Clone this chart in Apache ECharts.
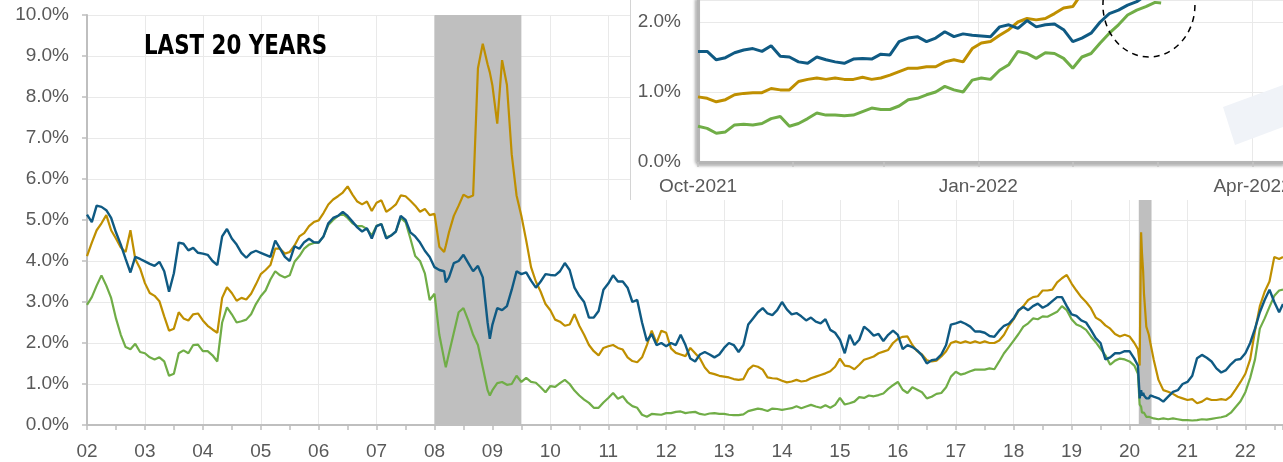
<!DOCTYPE html>
<html>
<head>
<meta charset="utf-8">
<script src="https://cdn.jsdelivr.net/npm/echarts@6/dist/echarts.min.js"></script>
<style>
html,body{margin:0;padding:0;background:#fff;overflow:hidden;}
#wrap{position:relative;width:1283px;height:462px;}
#main{position:absolute;left:0;top:0;width:1283px;height:462px;}
#inset{position:absolute;left:630px;top:0;width:653px;height:200px;background:#fff;}
</style>
</head>
<body>
<div id="wrap"><div id="main"></div><div id="inset"></div></div>
<script>
// ---------- MAIN CHART DATA (monthly, starting Jan 2002) ----------
const START_YEAR = 2002;
const yTickLabelsMain = [0,1,2,3,4,5,6,7,8,9,10];

const blueYield = [
5.13,4.95,5.35,5.32,5.24,5.05,4.70,4.40,4.05,3.72,4.10,4.05,
3.99,3.93,3.88,3.98,3.75,3.25,3.70,4.45,4.42,4.26,4.32,4.20,
4.18,4.15,4.00,3.90,4.60,4.78,4.55,4.40,4.20,4.08,4.20,4.25,
4.20,4.15,4.10,4.50,4.30,4.10,4.00,4.36,4.30,4.46,4.54,4.46,
4.45,4.60,4.92,5.05,5.10,5.20,5.10,4.96,4.82,4.72,4.80,4.55,
4.85,4.90,4.55,4.62,4.72,5.10,5.00,4.70,4.60,4.45,4.25,4.10,
3.85,3.78,3.75,3.60,3.95,4.00,4.15,3.95,3.75,3.88,3.60,2.50,
2.45,2.85,2.80,2.90,3.30,3.75,3.68,3.72,3.52,3.35,3.50,3.68,
3.66,3.65,3.75,3.95,3.78,3.35,3.15,3.00,2.62,2.62,2.78,3.30,
3.45,3.65,3.50,3.50,3.35,3.00,3.05,2.50,2.05,2.22,1.95,2.00,
1.92,2.00,1.95,2.20,1.95,1.62,1.55,1.72,1.78,1.72,1.65,1.72,
1.88,2.00,1.95,1.78,1.95,2.45,2.60,2.75,2.85,2.72,2.68,2.80,
3.00,2.82,2.70,2.73,2.65,2.55,2.62,2.52,2.48,2.58,2.32,2.25,
2.08,1.75,2.20,1.95,2.08,2.40,2.30,2.18,2.22,2.05,2.20,2.30,
2.20,1.85,1.95,1.90,1.82,1.70,1.50,1.58,1.60,1.72,1.95,2.45,
2.48,2.52,2.47,2.40,2.28,2.28,2.25,2.17,2.15,2.30,2.42,2.47,
2.60,2.80,2.88,2.80,2.90,2.96,2.86,2.92,3.02,3.12,3.12,2.90,
2.70,2.66,2.55,2.50,2.32,2.12,2.00,1.60,1.65,1.75,1.75,1.80,
1.80,1.62,0.90,0.72,0.65,0.69,0.65,0.57,0.69,0.81,0.85,1.00,
1.05,1.20,1.63,1.71,1.64,1.55,1.38,1.28,1.34,1.48,1.59,1.61,
1.75,2.00,2.35,2.75,3.05,3.30,3.00,2.75];

const goldYield = [
4.12,4.45,4.75,4.92,5.12,4.75,4.55,4.33,4.22,4.75,4.05,3.82,
3.46,3.22,3.15,3.02,2.65,2.30,2.35,2.75,2.60,2.55,2.70,2.72,
2.55,2.42,2.33,2.25,3.10,3.36,3.22,3.03,3.10,3.06,3.20,3.43,
3.68,3.78,3.90,4.30,4.30,4.18,4.22,4.38,4.60,4.68,4.85,4.95,
4.99,5.17,5.38,5.50,5.58,5.67,5.82,5.62,5.45,5.38,5.45,5.22,
5.42,5.48,5.20,5.28,5.38,5.60,5.58,5.47,5.35,5.20,5.27,5.12,
5.15,4.35,4.22,4.70,5.10,5.35,5.62,5.55,5.60,8.70,9.30,8.80,
8.28,7.35,8.90,8.30,6.60,5.60,5.10,4.50,3.85,3.50,3.25,2.95,
2.80,2.57,2.52,2.42,2.45,2.70,2.42,2.20,1.95,1.80,1.70,1.88,
1.92,1.95,1.88,1.84,1.65,1.56,1.53,1.65,1.95,2.30,2.00,2.30,
2.25,1.87,1.76,1.72,1.68,1.88,1.75,1.62,1.40,1.27,1.24,1.20,
1.18,1.16,1.12,1.10,1.12,1.35,1.45,1.42,1.35,1.16,1.14,1.13,
1.08,1.04,1.06,1.10,1.06,1.08,1.14,1.18,1.22,1.26,1.31,1.42,
1.62,1.45,1.43,1.36,1.47,1.59,1.63,1.67,1.75,1.79,1.83,2.00,
2.10,2.15,2.16,1.95,1.80,1.72,1.58,1.55,1.57,1.67,1.80,2.00,
2.04,2.00,2.04,2.00,2.04,2.00,2.04,2.00,2.00,2.06,2.20,2.42,
2.58,2.78,2.90,3.05,3.12,3.14,3.28,3.28,3.30,3.48,3.58,3.66,
3.45,3.28,3.12,3.00,2.85,2.62,2.55,2.43,2.35,2.22,2.16,2.20,
2.16,2.00,1.60,3.20,2.20,1.60,1.10,0.85,0.81,0.76,0.69,0.65,
0.61,0.63,0.53,0.57,0.65,0.61,0.61,0.63,0.61,0.70,0.87,1.05,
1.25,1.60,2.30,2.90,3.25,3.50,4.10,4.05];

const greenYield = [
2.93,3.12,3.40,3.65,3.40,3.10,2.60,2.20,1.90,1.85,1.98,1.78,
1.75,1.65,1.60,1.65,1.55,1.20,1.25,1.75,1.82,1.75,1.95,1.96,
1.80,1.80,1.70,1.55,2.50,2.87,2.70,2.50,2.53,2.57,2.70,2.95,
3.14,3.28,3.55,3.75,3.65,3.60,3.65,3.98,4.12,4.30,4.40,4.44,
4.45,4.60,4.88,5.00,5.10,5.15,5.05,4.92,4.85,4.85,4.78,4.62,
4.86,4.90,4.58,4.62,4.72,5.05,4.95,4.55,4.12,4.00,3.70,3.05,
3.20,2.20,1.60,1.75,2.25,2.75,2.85,2.55,2.20,1.95,1.40,0.85,
0.85,1.02,1.05,0.98,1.00,1.20,1.05,1.15,1.05,1.03,0.92,0.80,
0.95,0.93,1.02,1.10,1.00,0.84,0.72,0.62,0.54,0.42,0.42,0.55,
0.66,0.78,0.64,0.70,0.55,0.46,0.42,0.25,0.20,0.27,0.26,0.25,
0.29,0.29,0.32,0.33,0.29,0.31,0.32,0.27,0.25,0.28,0.29,0.27,
0.27,0.25,0.24,0.24,0.26,0.34,0.37,0.40,0.38,0.34,0.40,0.39,
0.37,0.39,0.41,0.46,0.41,0.45,0.49,0.45,0.42,0.48,0.42,0.49,
0.66,0.50,0.53,0.57,0.68,0.66,0.72,0.70,0.73,0.77,0.88,0.97,
1.05,0.86,0.78,0.92,0.86,0.80,0.65,0.69,0.76,0.78,0.92,1.18,
1.30,1.23,1.26,1.31,1.35,1.35,1.35,1.38,1.36,1.55,1.75,1.90,
2.06,2.22,2.40,2.48,2.60,2.58,2.65,2.64,2.70,2.76,2.90,2.80,
2.58,2.45,2.40,2.32,2.16,2.02,1.86,1.70,1.47,1.57,1.62,1.60,
1.55,1.45,0.70,0.30,0.20,0.16,0.14,0.16,0.14,0.16,0.14,0.12,
0.12,0.11,0.12,0.14,0.13,0.15,0.17,0.19,0.22,0.30,0.44,0.58,
0.80,1.15,1.60,2.35,2.60,2.88,3.15,3.28];

// extra (non-monthly) observations for sharp moves
const fineX      = [2008.195, 2008.955, 2020.145, 2020.175, 2020.20, 2020.215, 2020.235, 2020.29, 2020.36, 2022.65];
const blueFine   = [3.48, 2.10, 1.45, 0.65, 0.85, 0.72, 0.78, 0.65, 0.72, 2.95];
const goldFine   = [4.37, 8.60, 1.85, 1.45, 4.70, 4.20, 3.75, 2.40, 2.00, 4.10];
const greenFine  = [1.41, 0.72, 1.25, 0.50, 0.45, 0.30, 0.28, 0.20, 0.16, 3.30];

// recession periods (shaded)
const recessions = [[2008.0, 2009.5], [2020.16, 2020.38]];

// ---------- INSET DATA (Oct-2021 .. Mar-2022), day offsets from 2021-10-01 ----------
const insetDays = [0,3,6,9,12,15,18,21,24,27,30,33,36,39,42,45,48,51,54,57,60,63,66,69,72,75,78,81,84,87,90,93,96,99,102,105,108,111,114,117,120,123,126,129,132,135,138,141,144,147,150,152];
const insetBlue = [1.58,1.58,1.46,1.49,1.56,1.60,1.62,1.58,1.66,1.51,1.50,1.43,1.41,1.50,1.46,1.43,1.41,1.47,1.48,1.47,1.54,1.53,1.72,1.77,1.79,1.72,1.77,1.86,1.79,1.83,1.81,1.80,1.79,1.93,1.96,1.91,2.02,1.93,1.96,1.97,1.89,1.72,1.77,1.84,2.00,2.12,2.17,2.24,2.29,2.38,2.36,2.34];
const insetGold = [0.93,0.91,0.86,0.89,0.96,0.98,0.99,0.99,1.05,1.03,1.03,1.15,1.18,1.20,1.18,1.20,1.18,1.18,1.21,1.18,1.20,1.24,1.29,1.34,1.34,1.36,1.36,1.43,1.46,1.43,1.62,1.70,1.72,1.81,1.89,2.00,2.05,2.03,2.05,2.12,2.20,2.22,2.41,2.45,2.50,2.55,2.60,2.62,2.65,2.70,2.72,2.75];
const insetGreen = [0.51,0.48,0.41,0.43,0.53,0.54,0.53,0.55,0.62,0.65,0.51,0.55,0.62,0.70,0.67,0.67,0.66,0.67,0.72,0.77,0.75,0.75,0.80,0.89,0.91,0.96,1.00,1.08,1.03,1.00,1.17,1.20,1.18,1.31,1.39,1.58,1.55,1.48,1.56,1.55,1.48,1.34,1.50,1.55,1.70,1.84,1.96,2.10,2.17,2.22,2.28,2.27];
const insetYTicks = [0,1,2];
const MONTHS = ['Jan','Feb','Mar','Apr','May','Jun','Jul','Aug','Sep','Oct','Nov','Dec'];

// ---------- COLOURS ----------
const C_BLUE = '#0f5a83', C_GOLD = '#bf8f00', C_GREEN = '#70ad47';
const AXIS_FONT = "'Liberation Sans', Arial, sans-serif";

// ---------- MAIN CHART ----------
const monthX = blueYield.map((_, i) => START_YEAR + i / 12);
function build(monthly, fine) {
  const pts = monthly.map((v, i) => [monthX[i], v]);
  fine.forEach((v, j) => pts.push([fineX[j], v]));
  pts.sort((a, b) => a[0] - b[0]);
  return pts;
}
const isInt = v => Math.abs(v - Math.round(v)) < 1e-6;

const main = echarts.init(document.getElementById('main'));
main.setOption({
  animation: false,
  graphic: [{
    type: 'text', silent: true, x: 144, y: 47, scaleX: 0.88, z: 10,
    style: { text: 'LAST 20 YEARS', fill: '#000', font: "bold 27px 'Liberation Sans Narrow','DejaVu Sans Condensed',sans-serif",
      textAlign: 'left', textVerticalAlign: 'middle' }
  }],
  grid: { left: 87, right: 0, top: 15, bottom: 37, containLabel: false, outerBoundsMode: 'none' },
  xAxis: {
    type: 'value', min: 2002, max: 2022.65, interval: 1,
    axisLine: { show: true, onZero: false, lineStyle: { color: '#bfbfbf', width: 2 } },
    axisTick: { show: true, length: 5, lineStyle: { color: '#bfbfbf', width: 1.5 } },
    minorTick: { show: true, splitNumber: 2, length: 5, lineStyle: { color: '#bfbfbf', width: 1.5 } },
    axisLabel: { margin: 17, fontSize: 19, color: '#595959', fontFamily: AXIS_FONT,
      formatter: v => isInt(v) ? String(Math.round(v) % 100).padStart(2, '0') : '' },
    splitLine: { show: true, lineStyle: { color: '#e9e9e9', width: 1 } }
  },
  yAxis: {
    type: 'value', min: yTickLabelsMain[0], max: yTickLabelsMain[yTickLabelsMain.length - 1], interval: 1,
    axisLine: { show: true, lineStyle: { color: '#bfbfbf', width: 2 } },
    axisTick: { show: true, length: 5, lineStyle: { color: '#bfbfbf', width: 1.5 } },
    axisLabel: { margin: 18, fontSize: 19, color: '#595959', fontFamily: AXIS_FONT, formatter: v => v.toFixed(1) + '%' },
    splitLine: { show: true, lineStyle: { color: '#e9e9e9', width: 1 } }
  },
  series: [
    { name: 'recession', type: 'line', data: [], z: 1, silent: true,
      markArea: { silent: true, itemStyle: { color: '#bfbfbf' },
        data: recessions.map(r => [{ xAxis: r[0] }, { xAxis: r[1] }]) } },
    { name: 'green', type: 'line', data: build(greenYield, greenFine), showSymbol: false, z: 3,
      lineStyle: { color: C_GREEN, width: 2.2 }, itemStyle: { color: C_GREEN } },
    { name: 'gold', type: 'line', data: build(goldYield, goldFine), showSymbol: false, z: 3,
      lineStyle: { color: C_GOLD, width: 2.2 }, itemStyle: { color: C_GOLD } },
    { name: 'blue', type: 'line', data: build(blueYield, blueFine), showSymbol: false, z: 3,
      lineStyle: { color: C_BLUE, width: 2.4 }, itemStyle: { color: C_BLUE } }
  ]
});

// ---------- INSET CHART ----------
const insetCats = [];
for (let t = Date.UTC(2021, 9, 1); t <= Date.UTC(2022, 3, 11); t += 86400000) {
  insetCats.push(new Date(t).toISOString().slice(0, 10));
}
function toDaily(vals) {
  const arr = new Array(insetCats.length).fill(null);
  insetDays.forEach((d, i) => { arr[d] = vals[i]; });
  return arr;
}
const isMonthStart = v => v.endsWith('-01');
const isQuarterStart = v => /-(01|04|07|10)-01$/.test(v);

const inset = echarts.init(document.getElementById('inset'));
inset.setOption({
  animation: false,
  grid: { left: 68, right: 0, top: 0, bottom: 38, containLabel: false, outerBoundsMode: 'none' },
  xAxis: {
    type: 'category', data: insetCats, boundaryGap: false,
    axisLine: { show: true, lineStyle: { color: '#b5b5b5', width: 3, shadowColor: 'rgba(0,0,0,0.35)', shadowBlur: 3, shadowOffsetY: 2 } },
    axisTick: { show: true, interval: (i, v) => isMonthStart(v), length: 5, lineStyle: { color: '#c4c4c4', width: 1.5 } },
    axisLabel: { interval: (i, v) => isQuarterStart(v), margin: 15, fontSize: 19, color: '#595959', fontFamily: AXIS_FONT,
      hideOverlap: false, formatter: v => MONTHS[+v.slice(5, 7) - 1] + '-' + v.slice(0, 4) },
    splitLine: { show: true, interval: (i, v) => isQuarterStart(v), lineStyle: { color: '#e9e9e9', width: 1 } }
  },
  yAxis: {
    type: 'value', min: 0, max: 2.314, interval: 1,
    axisLine: { show: true, lineStyle: { color: '#b5b5b5', width: 3, shadowColor: 'rgba(0,0,0,0.35)', shadowBlur: 3, shadowOffsetX: -2 } },
    axisTick: { show: false },
    axisLabel: { margin: 17, fontSize: 19, color: '#595959', fontFamily: AXIS_FONT,
      formatter: v => (isInt(v) && insetYTicks.includes(Math.round(v))) ? v.toFixed(1) + '%' : '' },
    splitLine: { show: true, lineStyle: { color: '#e9e9e9', width: 1 } }
  },
  series: [
    { name: 'green', type: 'line', data: toDaily(insetGreen), connectNulls: true, showSymbol: false, z: 3,
      lineStyle: { color: C_GREEN, width: 3 }, itemStyle: { color: C_GREEN } },
    { name: 'gold', type: 'line', data: toDaily(insetGold), connectNulls: true, showSymbol: false, z: 3,
      lineStyle: { color: C_GOLD, width: 3 }, itemStyle: { color: C_GOLD } },
    { name: 'blue', type: 'line', data: toDaily(insetBlue), connectNulls: true, showSymbol: false, z: 3,
      lineStyle: { color: C_BLUE, width: 3 }, itemStyle: { color: C_BLUE } }
  ]
});

// annotation: dashed ellipse around the latest readings, placed in data space
const ctr = inset.convertToPixel({ xAxisIndex: 0, yAxisIndex: 0 }, [148, 2.243]);
inset.setOption({
  graphic: [
    { type: 'line', silent: true, z: 10, shape: { x1: 0.5, y1: 0, x2: 0.5, y2: 200 }, style: { stroke: '#d4d4d4', lineWidth: 1 } },
    { type: 'polygon', silent: true, z: 0, shape: { points: [[593,107],[653,85],[653,127],[605,145]] }, style: { fill: '#f0f3f8' } },
    { type: 'ellipse', silent: true, z: 20, shape: { cx: ctr[0], cy: ctr[1], rx: 46, ry: 52 },
      style: { fill: 'none', stroke: '#000', lineWidth: 1.5, lineDash: [6, 5] } }
  ]
});
</script>
</body>
</html>
